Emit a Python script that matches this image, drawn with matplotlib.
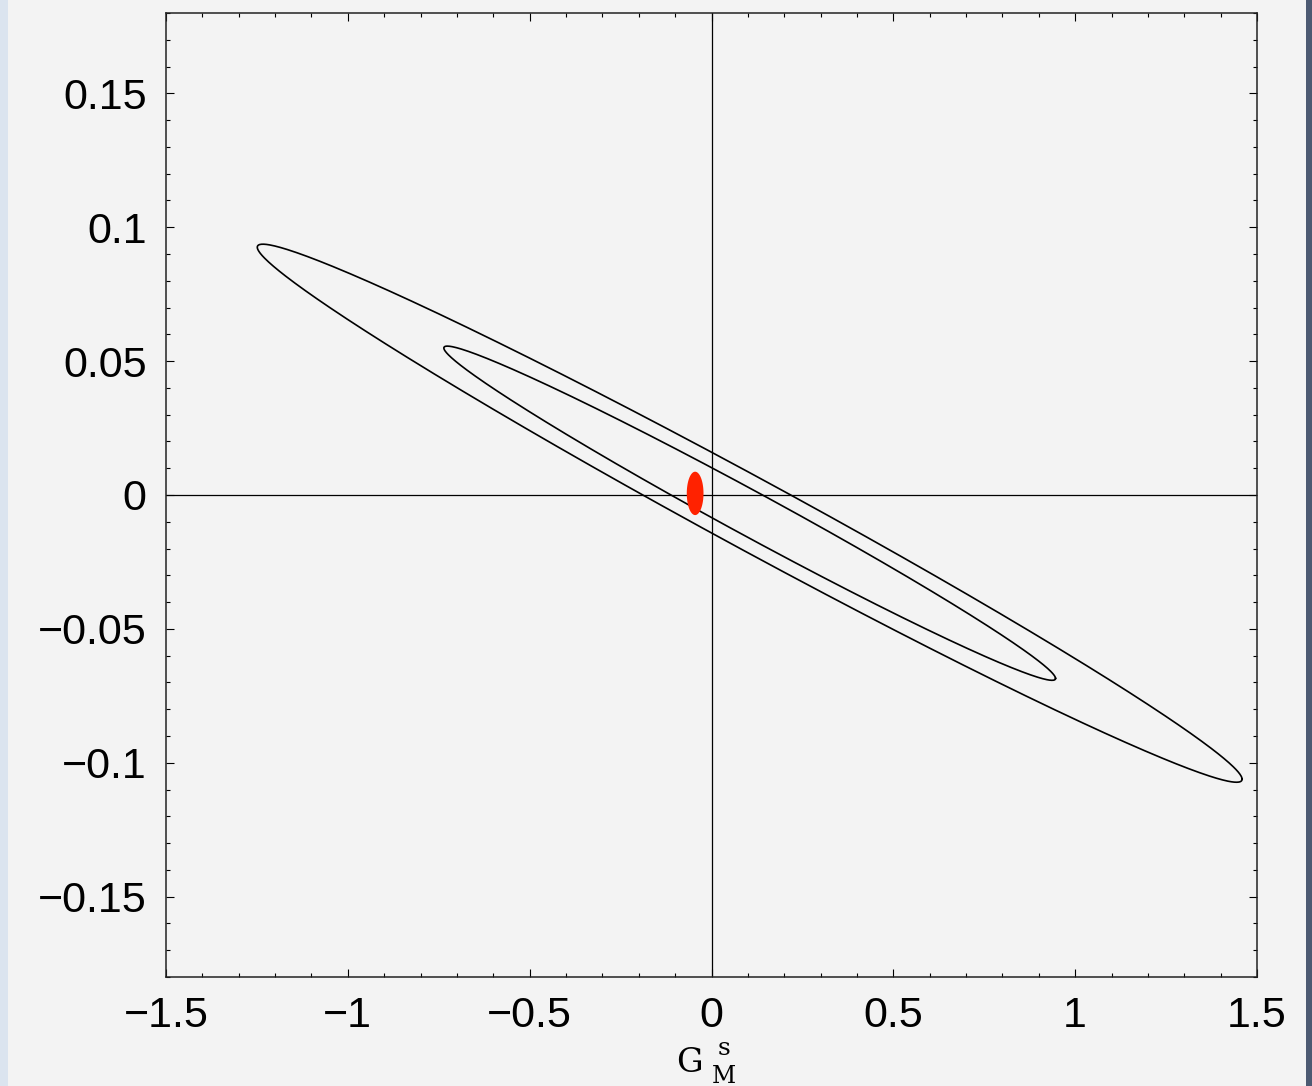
import numpy as np
import matplotlib
matplotlib.use("Agg")
import matplotlib.pyplot as plt
from matplotlib.ticker import FixedLocator, MultipleLocator
from matplotlib.patches import Rectangle

# Confidence contours in the (G_M^s, G_E^s) plane: shared centre and correlation,
# one x half-extent per confidence level
contour_centre = (0.105, -0.0068)
contour_slope_ratio = 0.0742      # y half-extent / x half-extent
contour_rho = -0.9886             # correlation coefficient
contour_x_extent = [0.841, 1.354] # inner, outer

# Single-point result shown as a filled red ellipse
point_centre = (-0.045, 0.0006)
point_half_widths = (0.023, 0.0081)

x_ticks = [-1.5, -1.0, -0.5, 0.0, 0.5, 1.0, 1.5]
x_ticklabels = ["\u22121.5", "\u22121", "\u22120.5", "0", "0.5", "1", "1.5"]
y_ticks = [-0.15, -0.10, -0.05, 0.0, 0.05, 0.10, 0.15]
y_ticklabels = ["\u22120.15", "\u22120.1", "\u22120.05", "0", "0.05", "0.1", "0.15"]

W, H = 1312, 1086
bg = "#f3f3f3"

fig = plt.figure(figsize=(W / 100, H / 100), dpi=100, facecolor=bg)
ax = fig.add_axes([166 / W, 1 - 977 / H, (1257 - 166) / W, (977 - 13) / H])
ax.set_facecolor(bg)

# window edges
fig.patches.append(Rectangle((0, 0), 8 / W, 1, transform=fig.transFigure,
                             facecolor="#dbe4ef", edgecolor="none", zorder=0))
fig.patches.append(Rectangle((1306 / W, 0), 6 / W, 1, transform=fig.transFigure,
                             facecolor="#4c5a72", edgecolor="none", zorder=0))

# coordinate axes through the origin
ax.axhline(0, color="black", lw=0.9, zorder=1)
ax.axvline(0, color="black", lw=0.9, zorder=1)

t = np.linspace(0, 2 * np.pi, 600)
cx, cy = contour_centre
for a in contour_x_extent:
    b = a * contour_slope_ratio
    xs = cx + a * np.cos(t)
    ys = cy + b * (contour_rho * np.cos(t) + np.sqrt(1 - contour_rho ** 2) * np.sin(t))
    ax.plot(xs, ys, color="black", lw=1.2, zorder=2)

px, py = point_centre
pa, pb = point_half_widths
ax.fill(px + pa * np.cos(t), py + pb * np.sin(t), color="#ff2200", lw=0, zorder=3)

ax.set_xlim(-1.5, 1.5)
ax.set_ylim(-0.18, 0.18)

ax.xaxis.set_major_locator(FixedLocator(x_ticks))
ax.set_xticklabels(x_ticklabels)
ax.yaxis.set_major_locator(FixedLocator(y_ticks))
ax.set_yticklabels(y_ticklabels)
ax.xaxis.set_minor_locator(MultipleLocator(0.1))
ax.yaxis.set_minor_locator(MultipleLocator(0.01))

ax.tick_params(which="both", direction="in", top=True, right=True, width=0.8,
               labelsize=31, colors="black")
ax.tick_params(which="major", length=5.5)
ax.tick_params(axis="y", which="major", pad=14)
ax.tick_params(axis="x", which="major", pad=14)
ax.tick_params(which="minor", length=3)
for lbl in ax.get_xticklabels() + ax.get_yticklabels():
    lbl.set_fontfamily("Liberation Sans")

for s in ax.spines.values():
    s.set_linewidth(1.1)
    s.set_color("#222222")

# x-axis label G with stacked superscript s and subscript M
serif = "DejaVu Serif"
fig.text(689 / W, 1 - 1072 / H, "G", fontsize=24, family=serif,
         ha="center", va="baseline")
fig.text(724 / W, 1 - 1055 / H, "s", fontsize=18, family=serif,
         ha="center", va="baseline")
fig.text(724 / W, 1 - 1083 / H, "M", fontsize=17, family=serif,
         ha="center", va="baseline")

fig.savefig("out.png", dpi=100, facecolor=bg)
